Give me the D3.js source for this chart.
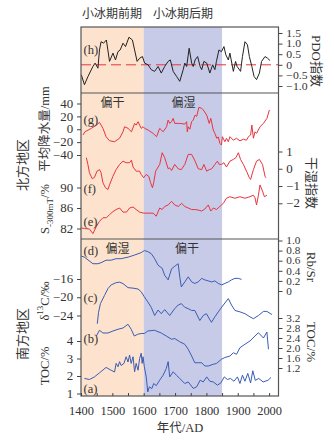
<!DOCTYPE html>
<meta charset="utf-8">
<script src="https://cdn.jsdelivr.net/npm/d3@7"></script>
<style>
  body { margin: 0; background: #fff; }
</style>
<div id="chart"></div>
<script>
  // ---- data: [year, value] ----
  var pdo = [[1401,-0.47],[1411,-0.94],[1422,-0.56],[1438,-0.08],[1445,0.08],[1454,-0.16],[1459,0.70],[1464,1.09],
    [1472,1.02],[1481,1.17],[1491,0.16],[1502,0.55],[1510,0.23],[1518,0.62],[1525,0.70],[1534,1.02],[1542,0.86],
    [1553,1.30],[1564,1.17],[1571,0.70],[1579,0.16],[1587,0.31],[1596,0.39],[1603,0.08],[1614,0.00],[1624,-0.23],
    [1635,-0.31],[1646,-0.08],[1656,-0.39],[1667,-0.08],[1678,0.16],[1685,0.23],[1694,-0.31],[1705,-0.55],[1715,-0.78],
    [1726,-0.23],[1731,0.08],[1737,-0.08],[1745,0.78],[1753,0.08],[1758,-0.08],[1764,0.23],[1772,0.39],[1780,-0.08],
    [1785,-0.23],[1792,0.16],[1801,0.08],[1811,-0.39],[1820,0.00],[1827,-0.23],[1832,0.16],[1840,0.70],[1848,0.62],
    [1856,0.86],[1862,0.47],[1870,0.23],[1875,0.55],[1886,-0.31],[1893,0.16],[1898,-0.08],[1909,-0.31],[1915,0.39],
    [1923,1.09],[1931,0.94],[1937,0.39],[1945,-0.08],[1952,-0.55],[1960,-0.70],[1969,-0.39],[1976,0.16],[1987,0.39],
    [1995,0.31],[2003,0.20]];

  var precip = [[1406,-9],[1413,-3.8],[1433,1.4],[1449,6.5],[1459,10.7],[1470,1.4],[1480,-11.6],[1491,-17.8],
    [1507,-19.4],[1523,-14],[1534,-3.9],[1539,3.9],[1550,1.4],[1561,-3.9],[1571,9.1],[1576,6.5],[1582,11.7],[1587,6.5],
    [1592,1.4],[1598,3.9],[1603,1.4],[1614,-1.2],[1630,-6.4],[1641,-11.6],[1651,1.4],[1662,-3.9],[1673,3.9],[1678,14.3],
    [1683,9.1],[1689,11.7],[1694,16.9],[1699,9.1],[1715,9.1],[1731,8],[1737,11.7],[1739,-3.9],[1742,3.9],[1747,0],
    [1753,11.7],[1758,14.3],[1764,22],[1769,20],[1776,34],[1785,32.6],[1790,30],[1801,22],[1809,9.1],[1814,17],
    [1822,-1.2],[1827,-6.4],[1833,-14],[1838,-12],[1843,-22],[1848,-24.5],[1851,-11.6],[1859,-19.4],[1864,-14],
    [1870,-19.4],[1875,-11.6],[1886,-17],[1896,-14],[1907,-18],[1918,-15.5],[1928,-17],[1934,-11.6],[1941,-9],
    [1945,6.5],[1950,-14],[1955,-3.9],[1960,-6.4],[1971,3.9],[1982,9.1],[1993,16.9],[2001,30]];

  var dryWet = [[1417,0.64],[1422,0.25],[1427,-0.23],[1436,-0.58],[1443,-0.5],[1451,-0.14],[1459,-0.05],[1464,-0.23],
    [1470,-0.81],[1478,-1.1],[1486,-1.2],[1491,-0.93],[1502,-0.43],[1512,-0.05],[1523,0.25],[1534,0.44],[1544,0.35],
    [1555,0.35],[1561,0.5],[1566,0.1],[1576,-0.14],[1587,-0.14],[1592,-0.33],[1600,-0.52],[1608,-0.33],[1616,-0.43],
    [1622,-0.81],[1628,-1.1],[1632,-0.8],[1638,-0.14],[1646,0.1],[1651,0.25],[1659,0.93],[1667,0.64],[1678,0],
    [1683,0.05],[1689,-0.1],[1699,0.25],[1710,0],[1720,-0.05],[1731,0.25],[1742,0.83],[1753,0.83],[1764,0.44],
    [1774,0],[1785,-0.05],[1792,0.25],[1801,-0.14],[1809,-0.05],[1817,0],[1827,0.25],[1835,0.44],[1841,0.25],
    [1848,0.25],[1856,0.35],[1864,0.1],[1875,0.44],[1886,0.54],[1894,0.64],[1902,0.93],[1909,0.54],[1918,0.25],
    [1928,-0.14],[1937,-0.52],[1941,-0.62],[1950,-0.05],[1960,0.44],[1969,0.54],[1979,0.25],[1987,-0.43],[1990,-0.52]];

  var s300 = [[1401,82.1],[1411,82],[1427,81.9],[1438,81],[1449,82.4],[1459,83.4],[1470,84.1],[1481,84.1],[1491,84.7],
    [1502,85.3],[1512,85.7],[1523,86],[1534,85.2],[1545,85.2],[1555,86],[1566,86.2],[1576,85.7],[1587,85.2],[1600,85],
    [1614,85],[1630,85],[1640,84.4],[1651,86],[1659,85.7],[1667,86.3],[1678,86.6],[1689,87.3],[1699,86.6],[1710,86.3],
    [1721,86.9],[1731,86.3],[1742,86],[1753,85.7],[1763,85.7],[1774,85.6],[1785,85.4],[1795,85.8],[1806,86.6],
    [1814,85.4],[1822,86],[1832,85.7],[1843,86.3],[1854,86.9],[1864,87.9],[1875,88.2],[1891,87.9],[1907,88.2],
    [1923,87.9],[1939,88.2],[1950,88.5],[1955,88],[1960,86.6],[1966,88.5],[1971,90.5],[1979,89.3],[1985,88.2],[1993,88.5]];

  var rbsr = [[1401,0.69],[1411,0.67],[1438,0.54],[1454,0.54],[1464,0.56],[1480,0.61],[1496,0.61],[1512,0.64],
    [1528,0.64],[1550,0.67],[1570,0.71],[1592,0.76],[1602,0.80],[1613,0.78],[1624,0.74],[1634,0.65],[1646,0.51],
    [1659,0.45],[1667,0.31],[1678,0.22],[1689,0.44],[1699,0.49],[1710,0.54],[1715,0.28],[1720,0.08],[1731,0.18],
    [1742,0.28],[1753,0.18],[1763,0.15],[1774,0.18],[1785,0.25],[1795,0.22],[1806,0.2],[1817,0.18],[1827,0.2],
    [1838,0.15],[1849,0.12],[1859,0.15],[1870,0.18],[1880,0.22],[1891,0.25],[1902,0.25],[1912,0.23]];

  var d13c = [[1452,-25.8],[1456,-23.3],[1462,-21.4],[1475,-19.6],[1486,-18.1],[1496,-17.3],[1512,-16.8],[1523,-16.7],
    [1534,-17],[1550,-17.9],[1566,-18],[1582,-18.2],[1592,-18.8],[1602,-19.9],[1613,-21],[1624,-22.2],[1635,-24],
    [1646,-22.8],[1656,-23.6],[1667,-22.7],[1683,-24],[1699,-22.5],[1710,-21.7],[1720,-21.4],[1731,-22.2],[1742,-22.5],
    [1753,-22.9],[1763,-22.9],[1779,-25.1],[1790,-24],[1800,-23.6],[1816,-25.5],[1827,-24.3],[1838,-23.2],[1854,-21.7],
    [1870,-20.3],[1880,-21.7],[1891,-22.9],[1907,-23.2],[1923,-23.6],[1939,-24.3],[1950,-24.7],[1966,-24],[1982,-23.1],
    [1993,-23.1],[2009,-23.8]];

  var tocB = [[1449,2.48],[1459,2.71],[1470,2.6],[1486,2.6],[1502,2.68],[1518,2.75],[1534,2.8],[1550,2.95],[1560,2.75],
    [1570,2.48],[1581,2.55],[1592,2.58],[1602,2.58],[1613,2.68],[1634,2.71],[1656,2.6],[1672,2.48],[1689,2.35],
    [1699,2.38],[1715,2.25],[1731,2.15],[1742,1.95],[1753,1.68],[1763,1.41],[1774,1.41],[1785,1.41],[1795,1.28],
    [1806,1.28],[1822,1.35],[1832,1.38],[1848,1.55],[1859,1.62],[1875,1.68],[1886,1.81],[1896,1.75],[1907,2.01],
    [1923,2.15],[1939,2.28],[1955,2.48],[1966,2.61],[1976,2.48],[1982,2.4],[1993,2.64],[1998,1.95]];

  var tocA = [[1411,1.86],[1427,1.8],[1443,1.95],[1459,2.18],[1480,2.49],[1496,2.33],[1507,2.23],[1512,2.72],
    [1518,2.53],[1523,2.82],[1528,2.6],[1537,2.72],[1544,3.1],[1550,2.8],[1555,3.2],[1560,2.72],[1566,3.1],[1571,2.24],
    [1576,2.72],[1582,2.33],[1587,3.0],[1592,3.3],[1595,2.72],[1598,3.1],[1602,2.53],[1608,1.95],[1613,1.09],
    [1618,1.38],[1626,1.28],[1632,1.57],[1640,1.45],[1651,1.76],[1662,2.05],[1672,2.43],[1678,2.82],[1683,1.95],
    [1694,2.24],[1704,2.05],[1715,1.86],[1731,1.57],[1742,1.66],[1758,1.29],[1769,1.38],[1780,1.76],[1790,1.66],
    [1801,1.95],[1811,1.7],[1822,1.66],[1835,1.48],[1846,1.6],[1857,1.95],[1867,1.8],[1877,1.86],[1888,1.7],
    [1899,1.95],[1907,1.57],[1915,2.05],[1923,1.7],[1932,2.15],[1941,1.6],[1948,2.3],[1956,1.75],[1967,1.86],
    [1981,1.66],[1997,1.76],[2006,1.92]];

  // shaded periods and their labels
  var periods = [[1400, 1600], [1600, 1850]];
  var periodNames = ["小冰期前期", "小冰期后期"];
  var yearTicks = d3.range(1400, 2001, 50);

  var W = 334, H = 442;
  var L = 81, R = 278.5, T = 27, B = 396;
  var split1 = 93, split2 = 239;
  var serif = "'Liberation Serif', 'Noto Sans CJK SC', serif";
  var ink = "#333";
  var red = "#e8343c", blue = "#3a5cb4";

  var svg = d3.select("#chart").append("svg")
    .attr("width", W).attr("height", H)
    .style("font-family", serif);

  var x = d3.scaleLinear().domain([1400, 2030]).range([L, R]);

  // one y scale per record
  var yH = d3.scaleLinear().domain([-1, 1.5]).range([86, 33]);
  var yG = d3.scaleLinear().domain([-40, 40]).range([155, 103.5]);
  var yF = d3.scaleLinear().domain([-2, 1]).range([203.3, 151.5]);
  var yE = d3.scaleLinear().domain([82, 90]).range([228.5, 187.5]);
  var yD = d3.scaleLinear().domain([0, 1]).range([291, 240.5]);
  var yC = d3.scaleLinear().domain([-24, -16]).range([315.5, 279]);
  var yB = d3.scaleLinear().domain([1.2, 3.2]).range([368, 318]);
  var yA = d3.scaleLinear().domain([1, 4]).range([393.5, 341]);

  // background bands
  svg.selectAll("rect.band").data(periods).enter().append("rect")
    .attr("class", "band")
    .attr("x", function (d) { return x(d[0]); })
    .attr("width", function (d) { return x(d[1]) - x(d[0]); })
    .attr("y", T).attr("height", B - T)
    .attr("fill", function (d, i) { return i === 0 ? "#fde3cd" : "#c8cbe8"; });

  // zero line of the PDO panel
  svg.append("line")
    .attr("x1", L).attr("x2", R)
    .attr("y1", yH(0)).attr("y2", yH(0))
    .attr("stroke", red).attr("stroke-width", 1)
    .attr("stroke-dasharray", "10,5");

  function drawLine(data, y, color) {
    svg.append("path")
      .datum(data)
      .attr("fill", "none")
      .attr("stroke", color)
      .attr("stroke-width", 1)
      .attr("stroke-linejoin", "round")
      .attr("d", d3.line()
        .x(function (d) { return x(d[0]); })
        .y(function (d) { return y(d[1]); }));
  }

  drawLine(pdo, yH, "#222");
  drawLine(precip, yG, red);
  drawLine(dryWet, yF, red);
  drawLine(s300, yE, red);
  drawLine(rbsr, yD, blue);
  drawLine(d13c, yC, blue);
  drawLine(tocB, yB, blue);
  drawLine(tocA, yA, blue);

  // frame and panel dividers
  svg.append("rect")
    .attr("x", L).attr("y", T).attr("width", R - L).attr("height", B - T)
    .attr("fill", "none").attr("stroke", "#555").attr("stroke-width", 1.2);
  [split1, split2].forEach(function (yy) {
    svg.append("line").attr("x1", L).attr("x2", R).attr("y1", yy).attr("y2", yy)
      .attr("stroke", "#555").attr("stroke-width", 1.2);
  });

  var fmt1 = function (d) { return d === 0 ? "0" : d3.format(".1f")(d); };
  var fmtInt = d3.format("d");

  // tick labels are drawn a little wide, as in the printed figure
  function yAxis(side, scale, ticks, format, size) {
    var axis = (side === "left" ? d3.axisLeft(scale) : d3.axisRight(scale))
      .tickValues(ticks).tickSize(4).tickPadding(3).tickFormat(format);
    var g = svg.append("g")
      .attr("transform", "translate(" + (side === "left" ? L : R) + ",0)")
      .call(axis);
    g.select(".domain").remove();
    g.attr("font-family", serif).attr("font-size", size);
    g.selectAll("line").attr("stroke", "#444");
    g.selectAll("text").attr("fill", ink).attr("transform", "scale(1.12,1)");
  }

  yAxis("right", yH, [-1, -0.5, 0, 0.5, 1, 1.5], fmt1, 10.5);
  yAxis("left", yG, [-40, -20, 0, 20, 40], fmtInt, 11.5);
  yAxis("right", yF, [-2, -1, 0, 1], fmtInt, 11.5);
  yAxis("left", yE, [82, 86, 90], fmtInt, 11.5);
  yAxis("right", yD, [0, 0.2, 0.4, 0.6, 0.8, 1.0], fmt1, 10);
  yAxis("left", yC, [-24, -20, -16], fmtInt, 11.5);
  yAxis("right", yB, [1.2, 1.6, 2.0, 2.4, 2.8, 3.2], d3.format(".1f"), 10);
  yAxis("left", yA, [1, 2, 3, 4], fmtInt, 11.5);

  // time axis, ticks pointing inward
  var xg = svg.append("g")
    .attr("transform", "translate(0," + B + ")")
    .call(d3.axisBottom(x).tickValues(yearTicks).tickSizeInner(-3).tickSizeOuter(0).tickPadding(11)
      .tickFormat(function (d) { return d % 100 === 0 ? d : ""; }));
  xg.select(".domain").remove();
  xg.attr("font-family", serif).attr("font-size", 11.5);
  xg.selectAll("line").attr("stroke", "#444");
  xg.selectAll("text").attr("fill", ink).attr("transform", "scale(1.08,1)");

  function label(txt, px, py, size, anchor) {
    return svg.append("text")
      .attr("x", px).attr("y", py)
      .attr("dy", "0.35em")
      .attr("text-anchor", anchor || "middle")
      .attr("font-size", size)
      .attr("fill", ink)
      .text(txt);
  }

  // period names above the frame
  periodNames.forEach(function (n, i) {
    label(n, i === 0 ? 112 : 183, 14, 12, "middle").attr("font-family", "'Noto Sans CJK SC'");
  });
  label("年代/AD", 180, 428, 12.5);

  // panel letters
  [["(h)", 50], ["(g)", 120], ["(f)", 189], ["(e)", 222], ["(d)", 250.5], ["(c)", 297.5], ["(b)", 339], ["(a)", 389]]
    .forEach(function (p) { label(p[0], 83.5, p[1], 12.5, "start"); });

  // wet / dry notes
  label("偏干", 112.5, 103, 12).attr("font-family", "'Noto Sans CJK SC'");
  label("偏湿", 183.5, 103, 12).attr("font-family", "'Noto Sans CJK SC'");
  label("偏湿", 117.5, 249, 12).attr("font-family", "'Noto Sans CJK SC'");
  label("偏干", 187, 249, 12).attr("font-family", "'Noto Sans CJK SC'");

  // rotated titles
  function vtitle(px, py, angle, size) {
    return svg.append("text")
      .attr("transform", "translate(" + px + "," + py + ") rotate(" + angle + ")")
      .attr("text-anchor", "middle")
      .attr("dominant-baseline", "central")
      .attr("font-size", size)
      .attr("fill", ink);
  }

  vtitle(22, 165, -90, 13).text("北方地区");
  vtitle(22, 334, -90, 13).text("南方地区");
  vtitle(45, 129, -90, 12.5).text("平均降水量/mm");

  var st = vtitle(45, 209, -90, 12.5);
  st.append("tspan").text("S");
  st.append("tspan").attr("font-size", 9).attr("baseline-shift", "sub").text("-300mT");
  st.append("tspan").text("/%");

  var dt = vtitle(45, 301, -90, 12.5);
  dt.append("tspan").text("δ");
  dt.append("tspan").attr("font-size", 9).attr("baseline-shift", "super").text("13");
  dt.append("tspan").text("C/‰");

  vtitle(45, 366, -90, 12.5).text("TOC/%");

  vtitle(316, 61, 90, 13).text("PDO指数");
  vtitle(311, 183, 90, 13).text("干湿指数");
  vtitle(311, 267, 90, 13).text("Rb/Sr");
  vtitle(311, 342, 90, 13).text("TOC/%");
</script>
